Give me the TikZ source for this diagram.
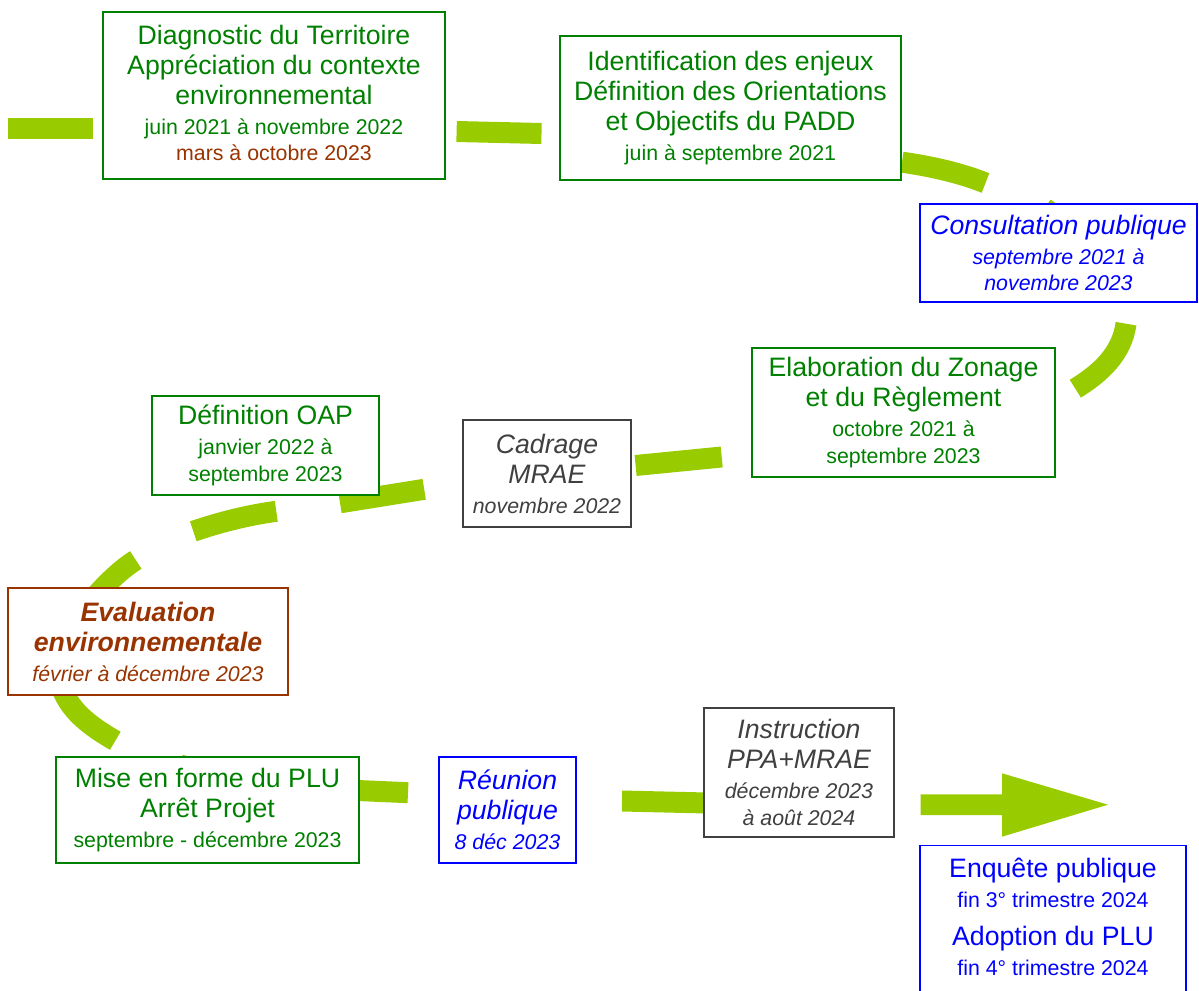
\documentclass[tikz,border=0pt]{standalone}
\usepackage{fontspec}
\setmainfont{Liberation Sans}

\definecolor{leaf}{HTML}{99CC00}
\definecolor{plugreen}{HTML}{008000}
\definecolor{rust}{HTML}{993300}
\definecolor{plublue}{HTML}{0000FF}
\definecolor{slate}{HTML}{404040}

\newcommand{\datefont}{\fontsize{16}{19}\selectfont}

\tikzset{boxsize/.style 2 args={minimum width=#1*0.75pt, minimum height=#2*0.75pt}}

\begin{document}
\begin{tikzpicture}
	[x = 0.75pt, y = -0.75pt,
	trail/.style={leaf, line width=15.75pt},
	stage/.style={draw, line width=1.1pt, fill=white, inner sep=0pt, align=center,
		font=\fontsize{20}{22.5}\selectfont},
	greenstage/.style={stage, draw=plugreen, text=plugreen},
	bluestage/.style={stage, draw=plublue, text=plublue},
	graystage/.style={stage, draw=slate, text=slate, font=\fontsize{20}{22.5}\selectfont\itshape},
	ruststage/.style={stage, draw=rust, text=rust, font=\fontsize{20}{22.5}\selectfont\itshape}]
	
	\useasboundingbox (0, 0) rectangle (1199, 991);
	
	% Draw green trail, dash by dash
	\draw[trail] (8, 128.7) -- (93.4, 128.7);
	\draw[trail] (456.6, 131.5) -- (541.5, 133.5);
	\draw[trail] (902, 162.2) .. controls (929.7, 166.1) and (959.5, 172.6) .. (985.5, 183);
	\draw[trail] (1044.6, 208.3) -- (1115, 257);
	\draw[trail] (1126, 323.7) .. controls (1122, 353.4) and (1100.8, 373.1) .. (1075.3, 388.7);
	\draw[trail] (721.7, 457) -- (635.6, 465.5);
	\draw[trail] (424.2, 489.3) -- (340, 502.8);
	\draw[trail] (276.3, 511.3) .. controls (248.6, 515) and (219.8, 522.2) .. (193.3, 531.3);
	\draw[trail] (135.8, 560) .. controls (112, 574.8) and (88.8, 602.6) .. (72, 625);
	\draw[trail] (60, 683) .. controls (68, 710) and (89.4, 725.7) .. (115.3, 740.8);
	\draw[trail] (180, 765) -- (258, 786);
	\draw[trail] (323, 789) -- (408, 792.7);
	\draw[trail] (622, 801) -- (707, 803);
	
	% Draw final arrow
	\fill[leaf] (920.7, 794.3) -- (1002, 794.3) -- (1002, 773.3) -- (1108, 804.7)
		-- (1002, 836.7) -- (1002, 815) -- (920.7, 815) -- cycle;
	
	% Draw stages
	\node[greenstage, boxsize={342}{167}, text depth=3.75pt] (diag) at (274, 95.5)
		{Diagnostic du Territoire\\Appréciation du contexte\\environnemental\\
		{\datefont juin 2021 à novembre 2022}\\[-2.5pt]{\datefont\color{rust}mars à octobre 2023}};
	\node[greenstage, boxsize={341}{144}] (ident) at (730.5, 108)
		{Identification des enjeux\\Définition des Orientations\\et Objectifs du PADD\\
		{\datefont juin à septembre 2021}};
	\node[bluestage, boxsize={277}{98}, font=\fontsize{20}{22.5}\selectfont\itshape] (consult) at (1058.5, 253)
		{Consultation publique\\{\datefont septembre 2021 à}\\[-2.5pt]{\datefont novembre 2023}};
	\node[greenstage, boxsize={303}{129}] (zonage) at (903.5, 412.5)
		{Elaboration du Zonage\\et du Règlement\\
		{\datefont octobre 2021 à}\\[-2.5pt]{\datefont septembre 2023}};
	\node[graystage, boxsize={168}{107}] (cadrage) at (547, 473.5)
		{Cadrage\\MRAE\\{\datefont novembre 2022}};
	\node[greenstage, boxsize={227}{99}] (oap) at (265.5, 445.5)
		{Définition OAP\\{\datefont janvier 2022 à}\\[-2.5pt]{\datefont septembre 2023}};
	\node[ruststage, boxsize={280}{107}] (evaluation) at (148, 641.5)
		{{\bfseries Evaluation}\\{\bfseries environnementale}\\{\datefont février à décembre 2023}};
	\node[greenstage, boxsize={303}{106}] (arret) at (207.5, 810)
		{Mise en forme du PLU\\Arrêt Projet\\{\datefont septembre - décembre 2023}};
	\node[bluestage, boxsize={137}{106}, font=\fontsize{20}{22.5}\selectfont\itshape] (reunion) at (507.5, 810)
		{Réunion\\publique\\{\datefont 8 déc 2023}};
	\node[graystage, boxsize={190}{129}] (instruction) at (799, 772.5)
		{Instruction\\PPA+MRAE\\{\datefont décembre 2023}\\[-2.5pt]{\datefont à août 2024}};
	\node[bluestage, anchor=north, minimum width=199.5pt, inner ysep=9pt, text depth=20pt] (enquete) at (1053, 845)
		{Enquête publique\\{\datefont fin 3° trimestre 2024}\\[6.5pt]
		Adoption du PLU\\{\datefont fin 4° trimestre 2024}};
	
\end{tikzpicture}
\end{document}
